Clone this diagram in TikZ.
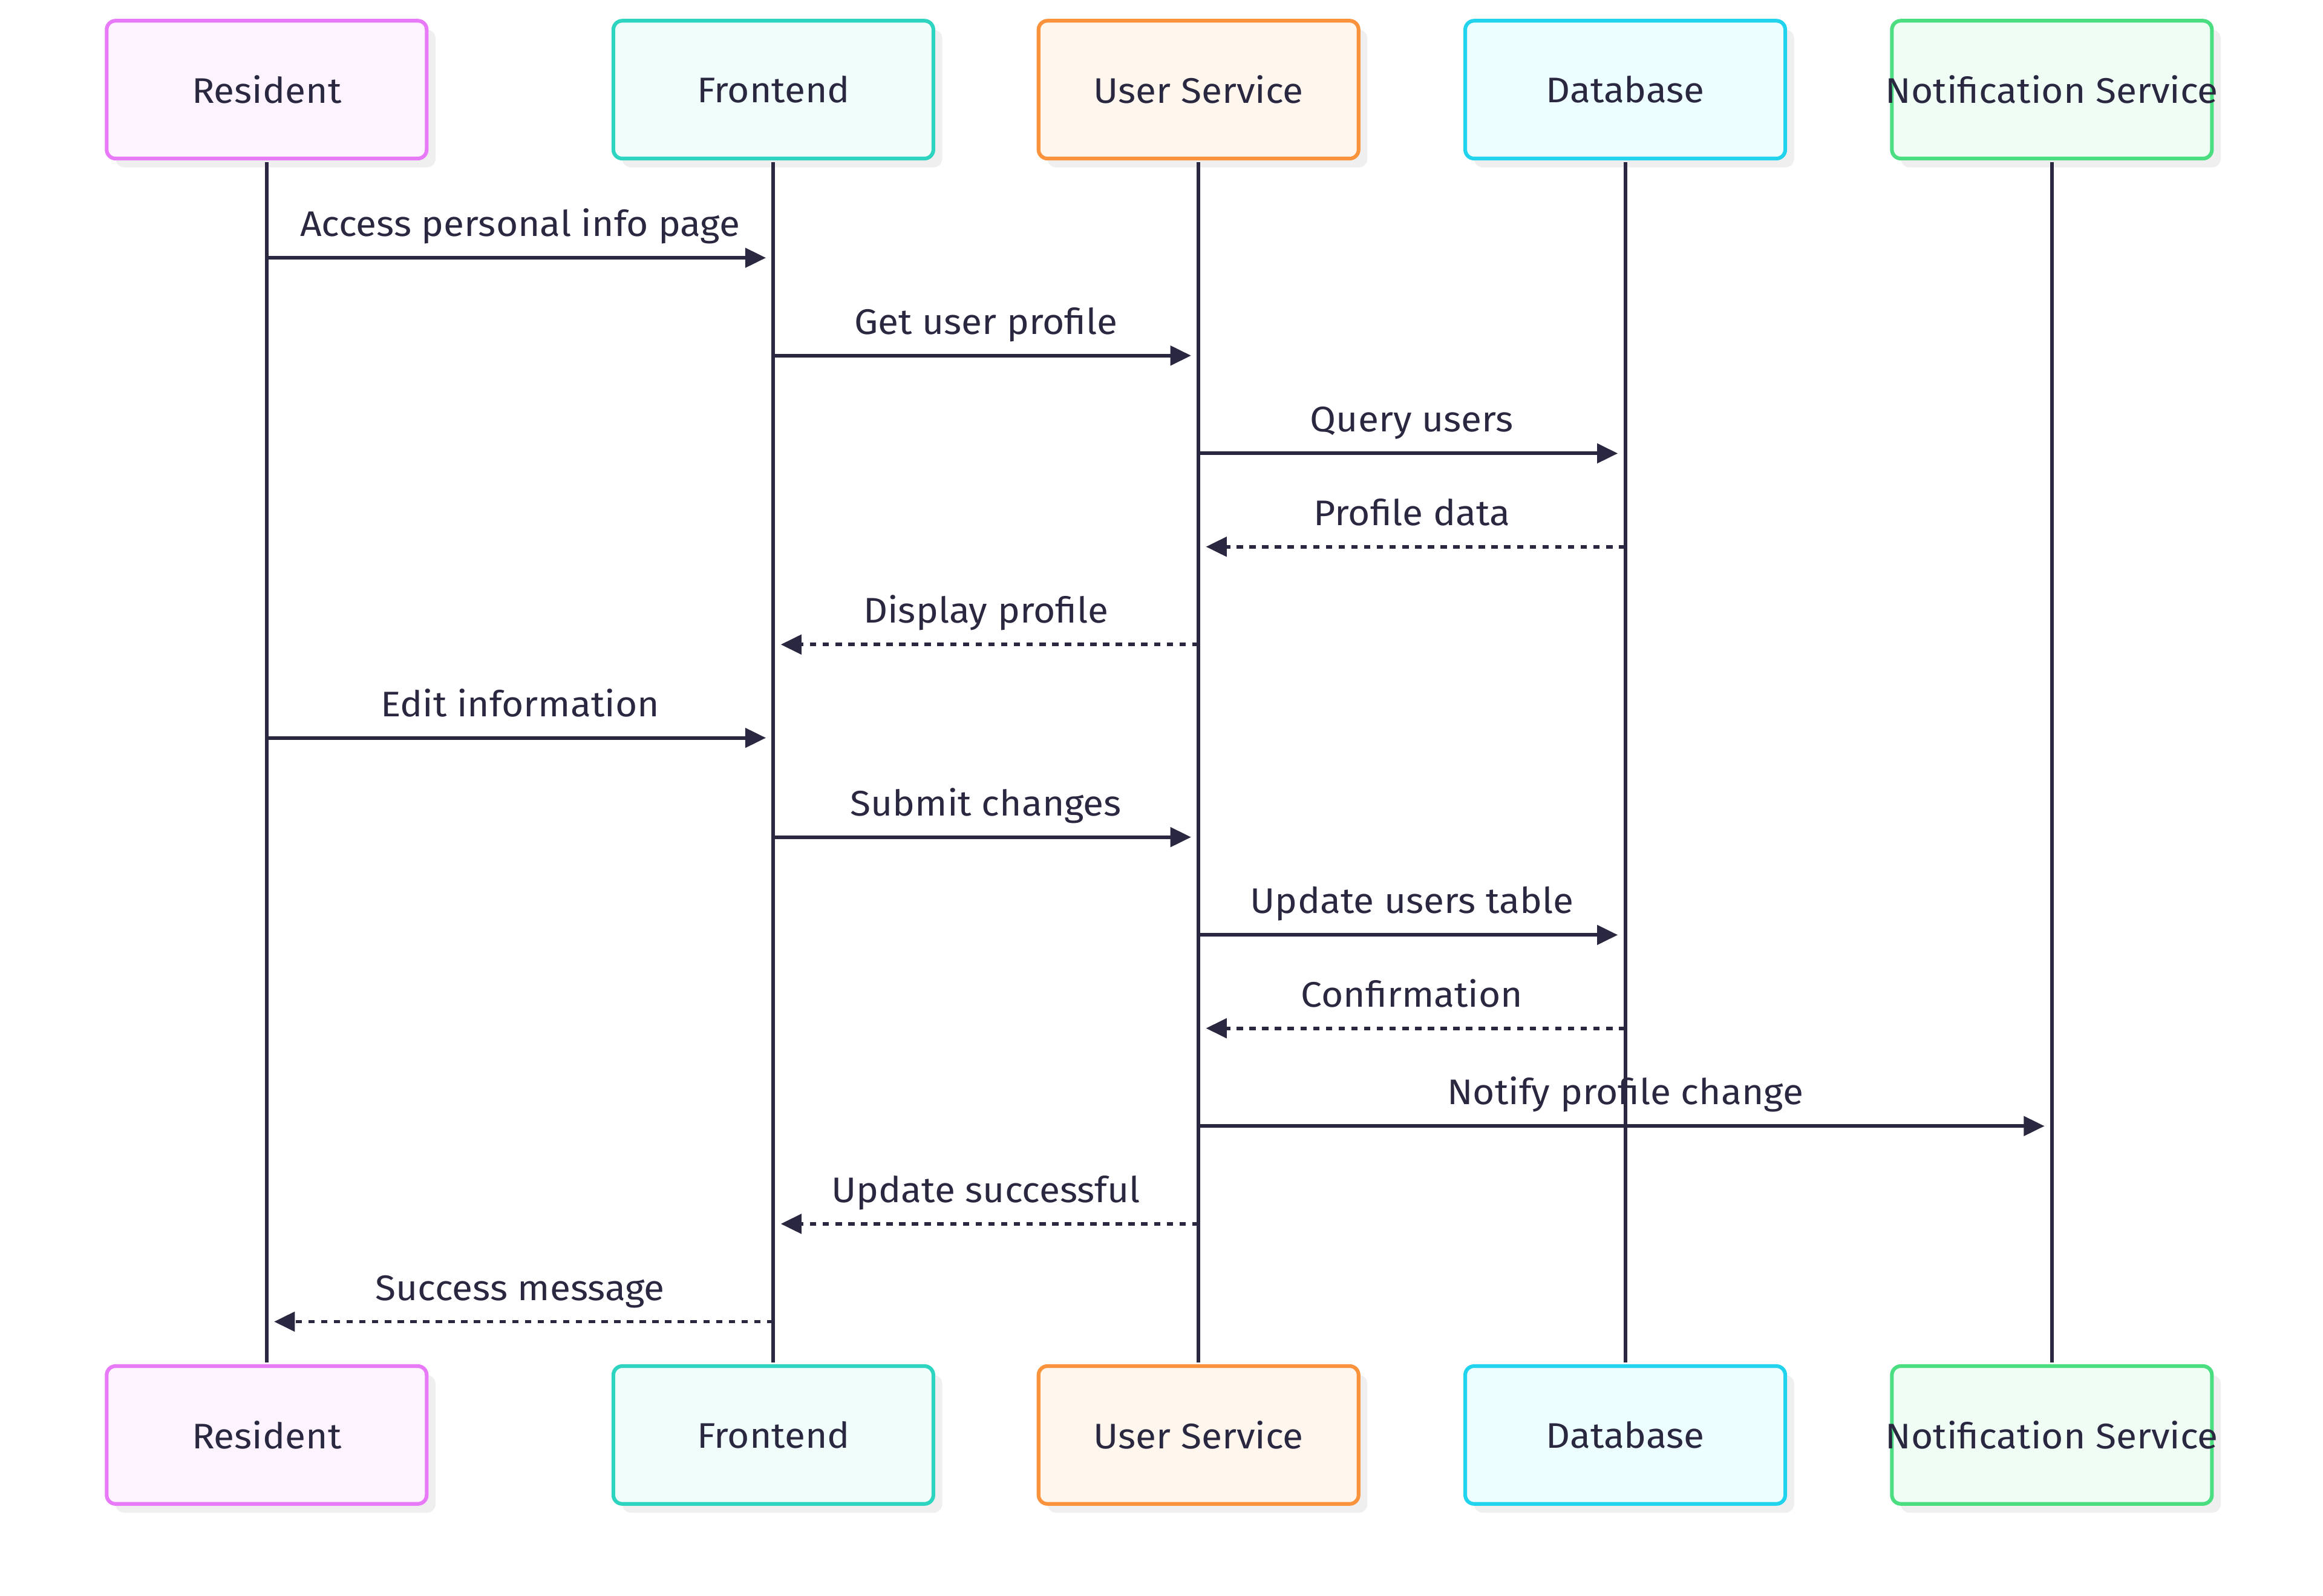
\documentclass[tikz,border=0pt]{standalone}
\usepackage{fontspec}
\setmainfont{Fira Sans}[FakeStretch=1.06]
\usetikzlibrary{shapes}
\usetikzlibrary{shadows}
\usetikzlibrary{arrows.meta}
\definecolor{ink}{HTML}{2A2840}
\definecolor{shade}{HTML}{EFEFEF}
\definecolor{resline}{HTML}{E879F9}
\definecolor{resfill}{HTML}{FDF4FF}
\definecolor{feline}{HTML}{2DD4BF}
\definecolor{fefill}{HTML}{F0FDFA}
\definecolor{usline}{HTML}{FB923C}
\definecolor{usfill}{HTML}{FFF7ED}
\definecolor{dbline}{HTML}{22D3EE}
\definecolor{dbfill}{HTML}{ECFEFF}
\definecolor{nsline}{HTML}{4ADE80}
\definecolor{nsfill}{HTML}{F0FDF4}

\begin{document}
\begin{tikzpicture}[x=1pt,y=-1pt]
\tikzstyle{actor}=[rectangle,rounded corners=6pt,line width=2.5pt,
minimum width=216pt,minimum height=93pt,inner sep=0pt,text=ink,
font=\fontsize{24}{29}\selectfont,
drop shadow={shadow xshift=6pt,shadow yshift=-6pt,fill=shade,opacity=1}]
\tikzstyle{lifeline}=[draw=ink,line width=2.4pt,shorten <=1.25pt,shorten >=1.25pt]
\tikzstyle{call}=[draw=ink,line width=2.4pt,-{Triangle[length=14pt,width=13pt]},
shorten >=5pt]
\tikzstyle{reply}=[call,dash pattern=on 4.3pt off 4.3pt]
\tikzstyle{msgtext}=[midway,anchor=base,yshift=14.5pt,inner sep=0pt,text=ink,
font=\fontsize{24}{29}\selectfont]
\useasboundingbox (0,0) rectangle (1568,1077);
% participants, top and bottom
\node[actor,draw=resline,fill=resfill] (resident-top) at (180,60.5) {Resident};
\node[actor,draw=feline,fill=fefill] (frontend-top) at (522,60.5) {Frontend};
\node[actor,draw=usline,fill=usfill] (users-top) at (809,60.5) {User Service};
\node[actor,draw=dbline,fill=dbfill] (database-top) at (1097,60.5) {Database};
\node[actor,draw=nsline,fill=nsfill] (notify-top) at (1385,60.5) {\makebox[0pt]{Notification Service}};
\node[actor,draw=resline,fill=resfill] (resident-bottom) at (180,968.5) {Resident};
\node[actor,draw=feline,fill=fefill] (frontend-bottom) at (522,968.5) {Frontend};
\node[actor,draw=usline,fill=usfill] (users-bottom) at (809,968.5) {User Service};
\node[actor,draw=dbline,fill=dbfill] (database-bottom) at (1097,968.5) {Database};
\node[actor,draw=nsline,fill=nsfill] (notify-bottom) at (1385,968.5) {\makebox[0pt]{Notification Service}};
\foreach \who in {resident,frontend,users,database,notify}
  \draw[lifeline] (\who-top) -- (\who-bottom);
% message rows on the lifelines
\foreach \y [count=\i] in {174,240,306,369,435,498,565,631,694,760,826,892}
  \foreach \who in {resident,frontend,users,database,notify}
    \coordinate (\who\i) at (\who-top |- 0,\y);
% messages
\draw[call] (resident1) -- node[msgtext] {Access personal info page} (frontend1);
\draw[call] (frontend2) -- node[msgtext] {Get user profile} (users2);
\draw[call] (users3) -- node[msgtext] {Query users} (database3);
\draw[reply] (database4) -- node[msgtext] {Profile data} (users4);
\draw[reply] (users5) -- node[msgtext] {Display profile} (frontend5);
\draw[call] (resident6) -- node[msgtext] {Edit information} (frontend6);
\draw[call] (frontend7) -- node[msgtext] {Submit changes} (users7);
\draw[call] (users8) -- node[msgtext] {Update users table} (database8);
\draw[reply] (database9) -- node[msgtext] {Confirmation} (users9);
\draw[call] (users10) -- node[msgtext] {Notify profile change} (notify10);
\draw[reply] (users11) -- node[msgtext] {Update successful} (frontend11);
\draw[reply] (frontend12) -- node[msgtext] {Success message} (resident12);
\end{tikzpicture}
\end{document}
